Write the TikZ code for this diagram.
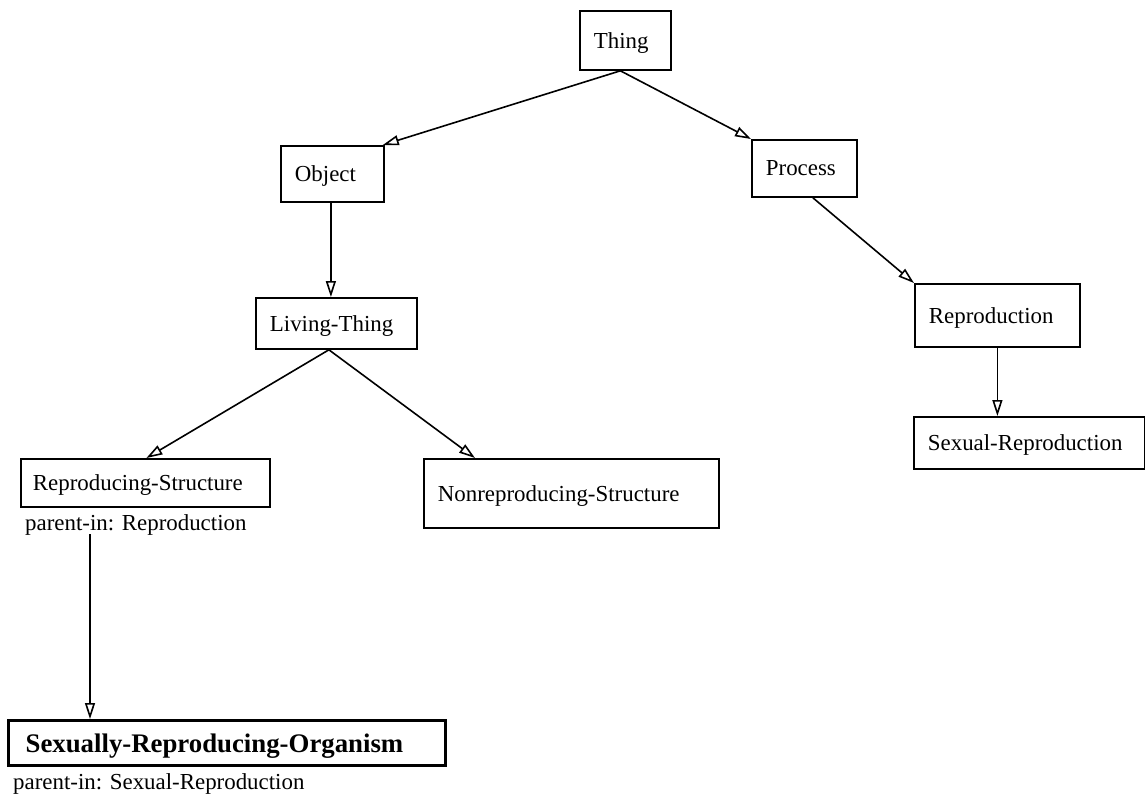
\documentclass[tikz,border=0pt]{standalone}
\usepackage{fontspec}
\setmainfont{Liberation Serif}
\usetikzlibrary{arrows.meta}
\begin{document}
\begin{tikzpicture}[x=1pt,y=-1pt,
  box/.style={draw, line width=1.8pt, anchor=north west, align=left,
    inner xsep=14pt, inner ysep=0pt, text depth=0pt, font=\fontsize{22.9}{26}\selectfont},
  bigbox/.style={box, line width=3.2pt, font=\fontsize{26.8}{30}\selectfont\bfseries, inner xsep=17pt},
  note/.style={anchor=base west, inner sep=0pt, font=\fontsize{22.9}{26}\selectfont},
  isa/.style={line width=1.6pt, -{Triangle[open, length=16pt, width=10pt]}}
]
\useasboundingbox (0,0) rectangle (1145,801);

\node[box, text width=63pt, minimum height=59pt] (thing) at (579,10) {Thing};
\node[box, text width=75pt, minimum height=56pt] (object) at (280,145) {Object};
\node[box, text width=77pt, minimum height=57pt] (process) at (751,139) {Process};
\node[box, text width=133pt, minimum height=51pt] (living) at (255,297) {Living-Thing};
\node[box, text width=137pt, minimum height=63pt] (repro) at (914,283) {Reproduction};
\node[box, text width=203pt, minimum height=52pt] (sexrep) at (913,416) {Sexual-Reproduction};
\node[box, inner xsep=12pt, text width=225pt, minimum height=48pt] (rs) at (20,458) {Reproducing-Structure};
\node[box, text width=267pt, minimum height=69pt] (nonrep) at (423,458) {Nonreproducing-Structure};
\node[bigbox, text width=403pt, minimum height=45pt] (sro) at (7,719) {Sexually-Reproducing-Organism};

\node[note] (rsp) at (25,530) {parent-in: Reproduction};
\node[note] (srop) at (13,789) {parent-in: Sexual-Reproduction};

\coordinate (thingout) at ([xshift=-5pt]thing.south);
\draw[isa] (thingout) -- ([xshift=-2pt]object.north east);
\draw[isa] (thingout) -- (process.north west);
\draw[isa] ([xshift=-1.5pt]object.south) -- ([xshift=-1.5pt]object.south |- living.north);
\coordinate (livout) at ([xshift=-7.5pt]living.south);
\draw[isa] (livout) -- ([xshift=1pt]rs.north);
\draw[isa] (livout) -- ([xshift=52pt]nonrep.north west);
\draw[isa] ([xshift=8.5pt]process.south) -- (repro.north west);
\draw[isa] (repro.south) -- (repro.south |- sexrep.north);
\coordinate (rsout) at ([xshift=65pt, yshift=-4pt]rsp.base west);
\draw[isa] (rsout) -- (rsout |- sro.north);
\end{tikzpicture}
\end{document}
